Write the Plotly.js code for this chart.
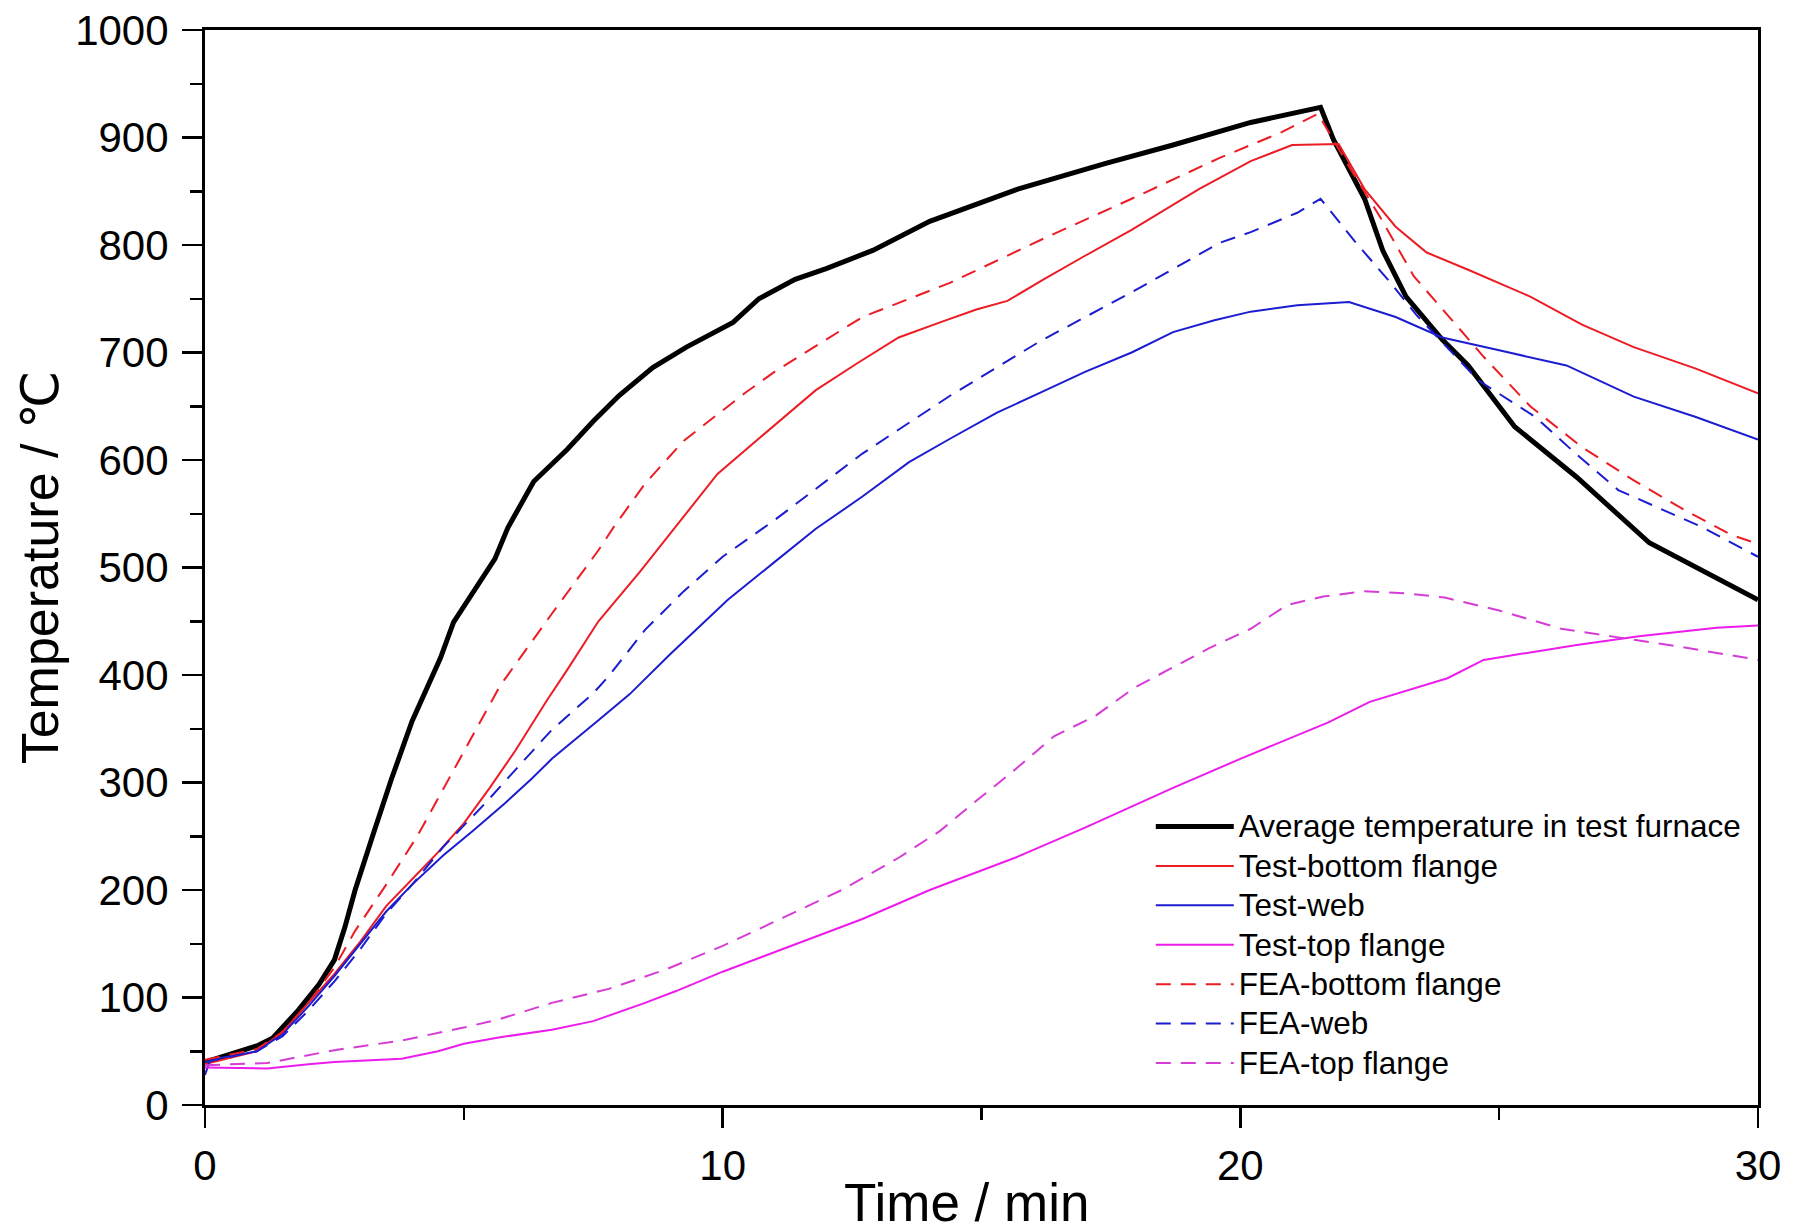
<!DOCTYPE html>
<html>
<head>
<meta charset="utf-8">
<script src="https://cdn.plot.ly/plotly-3.0.1.min.js"></script>
<style>html,body{margin:0;padding:0;background:#fff;}#chart{width:1796px;height:1232px;}</style>
</head>
<body>
<div id="chart"></div>
<script>
// Average temperature in test furnace
var avgT_t = [0, 0.5, 1.0, 1.3, 1.8, 2.2, 2.5, 2.7, 2.9, 3.25, 3.6, 4.0, 4.3, 4.55, 4.8, 5.05, 5.6, 5.85, 6.15, 6.35, 7.0, 7.5, 8.0, 8.65, 9.3, 10.2, 10.7, 11.4, 12.0, 12.9, 14.0, 15.7, 17.4, 18.7, 20.2, 20.8, 21.55, 21.8, 22.4, 22.75, 23.2, 23.9, 24.4, 25.3, 26.5, 27.9, 30];
var avgT_v = [40, 48, 55, 62, 88, 112, 135, 165, 200, 252, 303, 357, 390, 416, 449, 467, 508, 537, 563, 580, 610, 636, 660, 686, 705, 728, 750, 768, 778, 795, 822, 852, 876, 893, 914, 920, 928, 898, 843, 795, 752, 712, 688, 631, 584, 523, 470];

// Test-bottom flange
var testBot_t = [0, 1.0, 1.5, 2.0, 2.5, 3.0, 3.5, 4.0, 4.5, 5.0, 5.5, 6.0, 6.6, 7.0, 7.6, 8.4, 8.9, 9.9, 10.7, 11.8, 12.6, 13.4, 14.2, 14.9, 15.5, 16.2, 17.0, 17.9, 19.2, 20.2, 21.0, 21.9, 22.4, 23.0, 23.6, 24.4, 25.6, 26.6, 27.6, 28.8, 30];
var testBot_v = [38, 50, 68, 95, 122, 152, 185, 210, 235, 262, 295, 330, 376, 405, 450, 496, 526, 587, 620, 665, 690, 714, 728, 740, 748, 768, 790, 814, 852, 878, 893, 894, 852, 817, 793, 777, 752, 726, 705, 685, 662];

// Test-web
var testWeb_t = [0, 0.1, 1.0, 1.5, 2.0, 2.5, 3.0, 3.5, 4.0, 4.6, 5.2, 5.8, 6.3, 6.7, 7.6, 8.2, 9.0, 10.1, 11.0, 11.8, 12.7, 13.6, 14.4, 15.3, 16.2, 17.0, 17.9, 18.7, 19.5, 20.2, 21.1, 22.1, 23.0, 23.9, 25.0, 26.3, 27.6, 28.8, 30];
var testWeb_v = [28, 42, 50, 66, 92, 120, 150, 180, 205, 232, 256, 281, 303, 322, 358, 382, 420, 470, 505, 536, 566, 598, 620, 644, 664, 682, 700, 719, 730, 738, 744, 747, 733, 714, 702, 688, 659, 640, 619];

// Test-top flange
var testTop_t = [0, 1.2, 2.0, 2.5, 3.8, 4.5, 5.0, 5.7, 6.7, 7.5, 8.5, 9.1, 10.0, 11.0, 12.0, 12.7, 14.0, 15.7, 17.0, 18.7, 20.0, 21.7, 22.5, 23.2, 24.0, 24.7, 25.5, 26.5, 27.7, 29.2, 30];
var testTop_v = [35, 34, 38, 40, 43, 50, 57, 63, 70, 78, 95, 106, 124, 142, 160, 173, 200, 231, 258, 295, 322, 356, 375, 385, 397, 414, 420, 428, 436, 444, 446];

// FEA-bottom flange
var feaBot_t = [0, 1.0, 1.5, 2.0, 2.5, 2.9, 3.5, 4.1, 4.9, 5.7, 6.7, 7.6, 7.9, 8.5, 9.25, 10.45, 11.0, 12.7, 14.4, 16.2, 17.9, 19.6, 20.2, 20.8, 21.5, 22.2, 22.7, 23.35, 24.0, 24.7, 25.6, 26.6, 27.6, 28.6, 29.5, 30];
var feaBot_v = [42, 52, 68, 95, 128, 162, 205, 250, 320, 390, 457, 516, 538, 578, 618, 663, 682, 733, 765, 806, 843, 881, 893, 905, 922, 865, 826, 771, 735, 696, 650, 612, 581, 553, 530, 522];

// FEA-web
var feaWeb_t = [0, 1.0, 1.5, 2.0, 2.5, 3.0, 3.5, 4.0, 4.6, 5.4, 6.0, 6.7, 7.5, 7.8, 8.5, 9.25, 10.0, 11.0, 12.7, 14.4, 16.15, 17.9, 19.6, 20.2, 21.1, 21.55, 22.2, 22.9, 23.4, 24.0, 24.6, 25.7, 26.5, 27.3, 28.9, 30];
var feaWeb_v = [40, 50, 64, 88, 115, 145, 178, 205, 240, 280, 312, 349, 383, 399, 442, 478, 510, 544, 606, 660, 711, 756, 802, 812, 830, 843, 804, 765, 735, 705, 674, 640, 605, 572, 538, 510];

// FEA-top flange
var feaTop_t = [0, 1.2, 2.5, 3.8, 5.0, 5.7, 6.7, 7.8, 8.9, 10.0, 11.2, 12.3, 13.4, 14.2, 14.9, 15.6, 16.4, 17.2, 17.95, 19.4, 20.2, 20.9, 21.6, 22.4, 23.2, 23.95, 25.0, 26.2, 27.3, 28.4, 29.65, 30];
var feaTop_v = [37, 39, 51, 60, 72, 80, 95, 108, 126, 148, 175, 200, 230, 255, 283, 310, 343, 362, 388, 425, 443, 465, 473, 478, 476, 472, 460, 443, 435, 427, 417, 414];

var names = ['Average temperature in test furnace', 'Test-bottom flange', 'Test-web', 'Test-top flange', 'FEA-bottom flange', 'FEA-web', 'FEA-top flange'];
var xTickVals = [0, 10, 20, 30];
var yTickVals = [0, 100, 200, 300, 400, 500, 600, 700, 800, 900, 1000];

var RED = '#ec1c24', BLUE = '#1c1cd0', MAG = '#ec1cec', MAG2 = '#d63cd6';
var DASH = '15px,10px';

function tr(x, y, name, color, width, dash) {
  return {x: x, y: y, name: '<span style="font-size:31.5px">' + name + '</span>',
    type: 'scatter', mode: 'lines',
    line: {color: color, width: width, dash: dash || 'solid'}};
}

var data = [
  tr(avgT_t, avgT_v, names[0], '#000000', 5),
  tr(testBot_t, testBot_v, names[1], RED, 2),
  tr(testWeb_t, testWeb_v, names[2], BLUE, 2),
  tr(testTop_t, testTop_v, names[3], MAG, 2),
  tr(feaBot_t, feaBot_v, names[4], RED, 2, DASH),
  tr(feaWeb_t, feaWeb_v, names[5], BLUE, 2, DASH),
  tr(feaTop_t, feaTop_v, names[6], MAG2, 2, DASH)
];

var FONT = '"Liberation Sans", Arial, "DejaVu Sans", sans-serif';

var layout = {
  width: 1796, height: 1232,
  margin: {l: 205, r: 38, t: 30, b: 127, pad: 0},
  paper_bgcolor: '#ffffff', plot_bgcolor: '#ffffff',
  font: {family: FONT, color: '#000', size: 40},
  showlegend: true,
  legend: {x: 0.609, y: 0.282, xanchor: 'left', yanchor: 'top',
    bgcolor: 'rgba(0,0,0,0)', borderwidth: 0,
    font: {family: FONT, size: 28, color: '#000'},
    itemwidth: 78, tracegroupgap: 0},
  xaxis: {
    range: [0, 30], tickvals: xTickVals, ticktext: xTickVals.map(String),
    ticks: 'outside', ticklen: 20, tickwidth: 2.5, tickcolor: '#000',
    minor: {dtick: 5, ticks: 'outside', ticklen: 12, tickwidth: 2.5, tickcolor: '#000', showgrid: false},
    showline: true, linewidth: 3, linecolor: '#000', mirror: true,
    showgrid: false, zeroline: false,
    tickfont: {family: FONT, size: 42, color: '#000'},
    ticklabelstandoff: 2,
    title: {text: 'Time / min&nbsp;&nbsp;', font: {family: FONT, size: 53, color: '#000'}, standoff: 10}
  },
  yaxis: {
    range: [0, 1000], tickvals: yTickVals, ticktext: yTickVals.map(String),
    ticks: 'outside', ticklen: 20, tickwidth: 2.5, tickcolor: '#000',
    minor: {dtick: 50, ticks: 'outside', ticklen: 12, tickwidth: 2.5, tickcolor: '#000', showgrid: false},
    showline: true, linewidth: 3, linecolor: '#000', mirror: true,
    showgrid: false, zeroline: false,
    tickfont: {family: FONT, size: 42, color: '#000'},
    ticklabelstandoff: 5,
    title: {text: 'Temperature / ℃', font: {family: FONT, size: 52, color: '#000'}, standoff: 0}
  }
};

Plotly.newPlot('chart', data, layout, {staticPlot: true, displayModeBar: false});
</script>
</body>
</html>
